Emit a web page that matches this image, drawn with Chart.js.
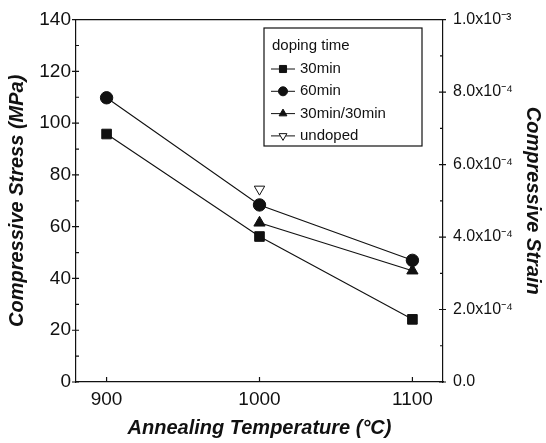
<!DOCTYPE html>
<html>
<head>
<meta charset="utf-8">
<script src="https://cdn.jsdelivr.net/npm/chart.js@4.4.1/dist/chart.umd.min.js"></script>
<style>
  html, body { margin: 0; padding: 0; background: #fff; }
  #wrap { width: 546px; height: 443px; }
</style>
</head>
<body>
<div id="wrap"><canvas id="chart1"></canvas></div>
<script>
// data
var temps = [900, 1000, 1100];
var stress_30min = [95.8, 56.2, 24.2];
var stress_60min = [109.8, 68.4, 47.0];
var temps_3030 = [1000, 1100];
var stress_3030 = [61.5, 43.0];
var temps_undoped = [1000];
var stress_undoped = [74.5];
var strainTicks = [0, 2e-4, 4e-4, 6e-4, 8e-4, 1e-3];
var strainLabels = ['0.0', '2.0x10\u207B\u2074', '4.0x10\u207B\u2074', '6.0x10\u207B\u2074', '8.0x10\u207B\u2074', '1.0x10\u207B\u00B3'];

var ink = '#111';
var fontFam = "'Liberation Sans', Arial, sans-serif";

function pts(xs, ys) {
  return xs.map((x, i) => ({x: x, y: ys[i]}));
}

// minor/major ticks, top border, legend box
const decor = {
  id: 'decor',
  afterDraw(chart) {
    const ctx = chart.ctx;
    const a = chart.chartArea;
    const yl = chart.scales.y;
    const yr = chart.scales.y2;
    const xs = chart.scales.x;
    ctx.save();
    ctx.strokeStyle = ink;
    ctx.lineWidth = 1.2;
    ctx.beginPath();
    ctx.moveTo(a.left, a.top);
    ctx.lineTo(a.right, a.top);
    // left axis
    for (var v = 0; v <= 140; v += 10) {
      var py = yl.getPixelForValue(v);
      if (v % 20 == 0) { ctx.moveTo(a.left - 4, py); ctx.lineTo(a.left + 3, py); }
      else { ctx.moveTo(a.left, py); ctx.lineTo(a.left + 3, py); }
    }
    // right axis
    for (var i = 0; i <= 10; i++) {
      var py = yr.getPixelForValue(i * 1e-4);
      if (i % 2 == 0) { ctx.moveTo(a.right - 4, py); ctx.lineTo(a.right + 3, py); }
      else { ctx.moveTo(a.right - 3, py); ctx.lineTo(a.right, py); }
    }
    // x axis
    temps.forEach(t => {
      var px = xs.getPixelForValue(t);
      ctx.moveTo(px, a.bottom);
      ctx.lineTo(px, a.bottom - 5);
    });
    ctx.stroke();

    // legend
    var bx = 264, by = 28, bw = 158, bh = 118;
    ctx.lineWidth = 1.2;
    ctx.strokeRect(bx, by, bw, bh);
    ctx.fillStyle = ink;
    ctx.font = '15px ' + fontFam;
    ctx.textBaseline = 'middle';
    ctx.textAlign = 'left';
    ctx.fillText('doping time', bx + 8, by + 18);
    chart.data.datasets.forEach((ds, k) => {
      var ry = by + 41 + k * 22.3;
      ctx.beginPath();
      ctx.lineWidth = 1;
      ctx.strokeStyle = ink;
      ctx.moveTo(bx + 7, ry);
      ctx.lineTo(bx + 31, ry);
      ctx.stroke();
      ctx.save();
      ctx.fillStyle = ds.pointBackgroundColor;
      ctx.strokeStyle = ds.pointBorderColor;
      ctx.lineWidth = 1;
      Chart.helpers.drawPoint(ctx, {
        pointStyle: ds.pointStyle,
        rotation: ds.pointRotation || 0,
        radius: ds.pointStyle == 'rect' ? 5 : 4.5,
        borderWidth: 1
      }, bx + 19, ry);
      ctx.restore();
      ctx.fillStyle = ink;
      ctx.fillText(ds.label, bx + 36, ry);
    });
    ctx.restore();
  }
};

function series(label, data, style, extra) {
  return Object.assign({
    label: label,
    data: data,
    borderColor: ink,
    backgroundColor: ink,
    borderWidth: 1.1,
    pointStyle: style,
    pointRadius: 6,
    pointBorderWidth: 1,
    pointBackgroundColor: ink,
    pointBorderColor: ink,
    yAxisID: 'y',
    tension: 0
  }, extra || {});
}

const config = {
  type: 'line',
  data: {
    datasets: [
      series('30min', pts(temps, stress_30min), 'rect', {pointRadius: 6.8}),
      series('60min', pts(temps, stress_60min), 'circle', {pointRadius: 6.2}),
      series('30min/30min', pts(temps_3030, stress_3030), 'triangle', {pointRadius: 6.5}),
      series('undoped', pts(temps_undoped, stress_undoped), 'triangle', {
        pointRotation: 180, pointBackgroundColor: '#fff', pointRadius: 6
      })
    ]
  },
  options: {
    responsive: true,
    maintainAspectRatio: false,
    animation: false,
    layout: { padding: { top: 18, left: 0, right: 0, bottom: 0 } },
    plugins: { legend: { display: false }, tooltip: { enabled: false } },
    scales: {
      x: {
        type: 'linear',
        min: 880,
        max: 1120,
        afterBuildTicks: s => { s.ticks = temps.map(v => ({value: v})); },
        afterFit: s => { s.height = 61; },
        grid: { display: false, drawTicks: false },
        border: { display: true, color: ink, width: 1.2 },
        ticks: {
          color: ink,
          padding: 6,
          font: { family: fontFam, size: 19 },
          callback: v => String(v)
        },
        title: {
          display: true,
          text: 'Annealing Temperature (\u00B0C)',
          color: ink,
          padding: { top: 0, bottom: 3 },
          font: { family: fontFam, size: 20, weight: 'bold', style: 'italic' }
        }
      },
      y: {
        position: 'left',
        min: 0,
        max: 140,
        afterBuildTicks: s => { s.ticks = [0, 20, 40, 60, 80, 100, 120, 140].map(v => ({value: v})); },
        afterFit: s => { s.width = 76; },
        grid: { display: false, drawTicks: false },
        border: { display: true, color: ink, width: 1.2 },
        ticks: { color: ink, padding: 5, font: { family: fontFam, size: 19 } },
        title: {
          display: true,
          text: 'Compressive Stress (MPa)',
          color: ink,
          padding: { top: 5, bottom: 0 },
          font: { family: fontFam, size: 20, weight: 'bold', style: 'italic' }
        }
      },
      y2: {
        position: 'right',
        min: 0,
        max: 1e-3,
        afterBuildTicks: s => { s.ticks = strainTicks.map(v => ({value: v})); },
        afterFit: s => { s.width = 103; },
        grid: { display: false, drawTicks: false },
        border: { display: true, color: ink, width: 1.2 },
        ticks: {
          color: ink,
          padding: 10,
          font: { family: fontFam, size: 16 },
          callback: (v, i) => strainLabels[i]
        },
        title: {
          display: true,
          text: 'Compressive Strain',
          color: ink,
          padding: { top: 1, bottom: 0 },
          font: { family: fontFam, size: 20, weight: 'bold', style: 'italic' }
        }
      }
    }
  },
  plugins: [decor]
};

new Chart(document.getElementById('chart1'), config);
</script>
</body>
</html>
